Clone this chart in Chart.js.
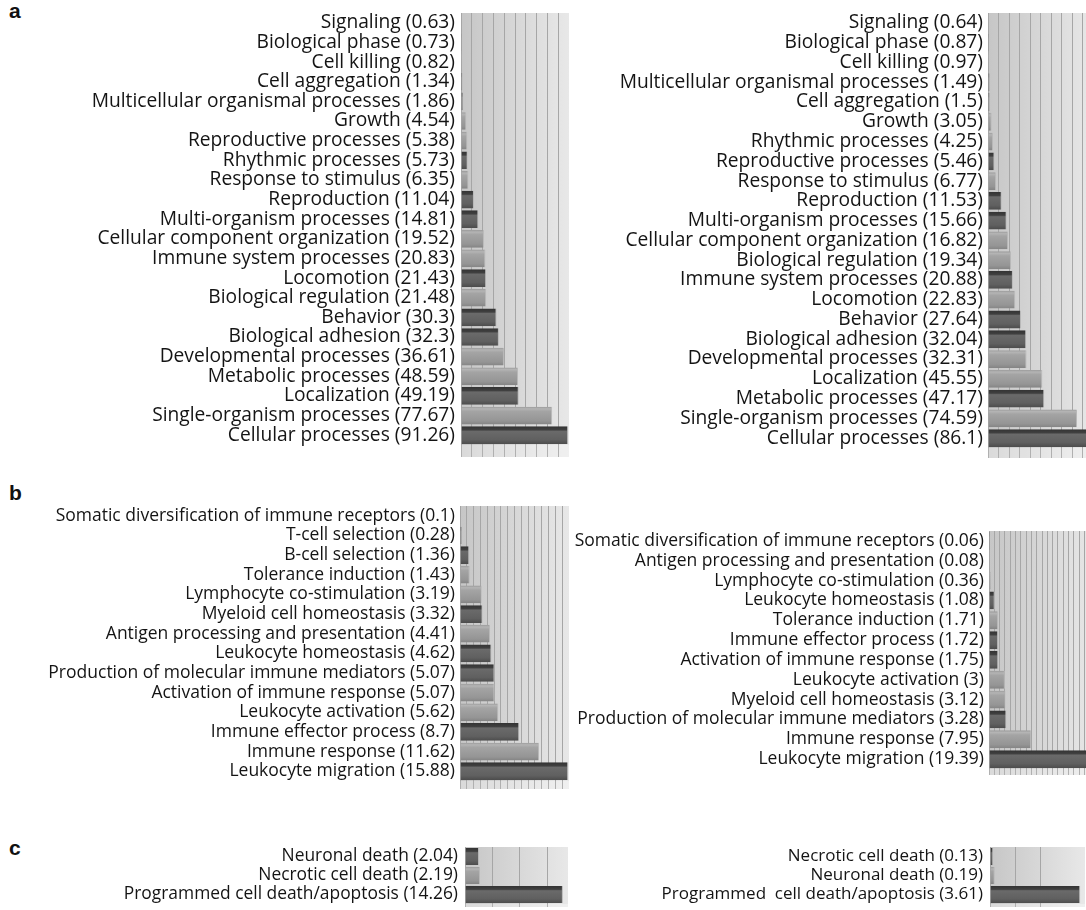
<!DOCTYPE html>
<html>
<head>
<meta charset="utf-8">
<script src="https://cdn.jsdelivr.net/npm/chart.js@4/dist/chart.umd.min.js"></script>
<style>
  body { margin: 0; width: 1086px; height: 910px; overflow: hidden; background: #fff; position: relative; }
  canvas { position: absolute; }
  .tag { position: absolute; font: bold 21px "Liberation Sans", Arial, sans-serif; color: #111; }
</style>
</head>
<body>
<div class="tag" style="left:9px;top:-1px">a</div>
<div class="tag" style="left:9px;top:481px">b</div>
<div class="tag" style="left:9px;top:836px">c</div>

<canvas id="aLeft"></canvas>
<canvas id="aRight"></canvas>
<canvas id="bLeft"></canvas>
<canvas id="bRight"></canvas>
<canvas id="cLeft"></canvas>
<canvas id="cRight"></canvas>

<script>
// a: GO biological process categories (percent of genes)
const aLeftNames = ['Signaling', 'Biological phase', 'Cell killing', 'Cell aggregation',
  'Multicellular organismal processes', 'Growth', 'Reproductive processes', 'Rhythmic processes',
  'Response to stimulus', 'Reproduction', 'Multi-organism processes', 'Cellular component organization',
  'Immune system processes', 'Locomotion', 'Biological regulation', 'Behavior', 'Biological adhesion',
  'Developmental processes', 'Metabolic processes', 'Localization', 'Single-organism processes',
  'Cellular processes'];
const aLeftValues = [0.63, 0.73, 0.82, 1.34, 1.86, 4.54, 5.38, 5.73, 6.35, 11.04, 14.81, 19.52,
  20.83, 21.43, 21.48, 30.3, 32.3, 36.61, 48.59, 49.19, 77.67, 91.26];

const aRightNames = ['Signaling', 'Biological phase', 'Cell killing', 'Multicellular organismal processes',
  'Cell aggregation', 'Growth', 'Rhythmic processes', 'Reproductive processes', 'Response to stimulus',
  'Reproduction', 'Multi-organism processes', 'Cellular component organization', 'Biological regulation',
  'Immune system processes', 'Locomotion', 'Behavior', 'Biological adhesion', 'Developmental processes',
  'Localization', 'Metabolic processes', 'Single-organism processes', 'Cellular processes'];
const aRightValues = [0.64, 0.87, 0.97, 1.49, 1.5, 3.05, 4.25, 5.46, 6.77, 11.53, 15.66, 16.82,
  19.34, 20.88, 22.83, 27.64, 32.04, 32.31, 45.55, 47.17, 74.59, 86.1];

// b: immune system process subcategories
const bLeftNames = ['Somatic diversification of immune receptors', 'T-cell selection', 'B-cell selection',
  'Tolerance induction', 'Lymphocyte co-stimulation', 'Myeloid cell homeostasis',
  'Antigen processing and presentation', 'Leukocyte homeostasis', 'Production of molecular immune mediators',
  'Activation of immune response', 'Leukocyte activation', 'Immune effector process', 'Immune response',
  'Leukocyte migration'];
const bLeftValues = [0.1, 0.28, 1.36, 1.43, 3.19, 3.32, 4.41, 4.62, 5.07, 5.07, 5.62, 8.7, 11.62, 15.88];

const bRightNames = ['Somatic diversification of immune receptors', 'Antigen processing and presentation',
  'Lymphocyte co-stimulation', 'Leukocyte homeostasis', 'Tolerance induction', 'Immune effector process',
  'Activation of immune response', 'Leukocyte activation', 'Myeloid cell homeostasis',
  'Production of molecular immune mediators', 'Immune response', 'Leukocyte migration'];
const bRightValues = [0.06, 0.08, 0.36, 1.08, 1.71, 1.72, 1.75, 3, 3.12, 3.28, 7.95, 19.39];

// c: cell death subcategories
const cLeftNames = ['Neuronal death', 'Necrotic cell death', 'Programmed cell death/apoptosis'];
const cLeftValues = [2.04, 2.19, 14.26];

const cRightNames = ['Necrotic cell death', 'Neuronal death', 'Programmed  cell death/apoptosis'];
const cRightValues = [0.13, 0.19, 3.61];

// bar shading, counted from the bottom bar upwards (D = dark, L = light)
const SHADES = 'DLDLLDDLDLLD';

const FONT = '"Open Sans", "Noto Sans", sans-serif';

function barFill(chart, index, count) {
  const pos = count - 1 - index;
  const dark = SHADES[pos % SHADES.length] === 'D';
  const flat = dark ? '#606060' : '#9c9c9c';
  const y = chart.scales.y;
  if (!y) return flat;
  const c = y.getPixelForValue(index);
  const band = Math.abs(y.getPixelForValue(1) - y.getPixelForValue(0));
  if (!isFinite(c) || !isFinite(band) || band === 0) return flat;
  const h = band * 0.9;
  const g = chart.ctx.createLinearGradient(0, c - h / 2, 0, c + h / 2);
  if (dark) {
    g.addColorStop(0, '#333333');
    g.addColorStop(0.2, '#404040');
    g.addColorStop(0.28, '#6a6a6a');
    g.addColorStop(0.75, '#606060');
    g.addColorStop(1, '#4c4c4c');
  } else {
    g.addColorStop(0, '#9a9a9a');
    g.addColorStop(0.12, '#b4b4b4');
    g.addColorStop(0.26, '#a4a4a4');
    g.addColorStop(0.8, '#959595');
    g.addColorStop(1, '#848484');
  }
  return g;
}

// grey back wall with a lighter right side, plus the floor strip
const wallPlugin = {
  id: 'wall',
  beforeDraw(chart, args, opts) {
    const { ctx, chartArea: a } = chart;
    if (!a) return;
    const g = ctx.createLinearGradient(a.left, 0, a.right, 0);
    g.addColorStop(0, '#c6c6c6');
    g.addColorStop(1, '#e8e8e8');
    ctx.save();
    ctx.fillStyle = g;
    ctx.fillRect(a.left, a.top - opts.lift, a.right - a.left, a.bottom - a.top + opts.lift + opts.floor);
    ctx.fillStyle = 'rgba(255,255,255,0.35)';
    ctx.fillRect(a.left, a.bottom, a.right - a.left, opts.floor);
    ctx.restore();
  }
};

function panel(id, names, values, box) {
  const el = document.getElementById(id);
  const width = box.labelWidth + box.plotWidth;
  const height = box.plotHeight + box.floor;
  el.width = width;
  el.height = height;
  el.style.left = (box.plotLeft - box.labelWidth) + 'px';
  el.style.top = box.plotTop + 'px';
  const labels = names.map((n, i) => `${n} (${values[i]})`);
  return new Chart(el, {
    type: 'bar',
    data: {
      labels: labels,
      datasets: [{
        data: values,
        backgroundColor: (ctx) => barFill(ctx.chart, ctx.dataIndex, values.length),
        borderColor: '#b8b8b8',
        borderWidth: { top: 0, left: 0, bottom: 0, right: 1 },
        borderSkipped: 'start',
        barPercentage: 0.9,
        categoryPercentage: 1
      }]
    },
    options: {
      indexAxis: 'y',
      responsive: false,
      animation: false,
      events: [],
      layout: { padding: 0 },
      plugins: {
        legend: { display: false },
        tooltip: { enabled: false },
        wall: { lift: box.lift, floor: box.floor }
      },
      scales: {
        x: {
          min: 0,
          max: box.max,
          ticks: { display: false, stepSize: box.step },
          grid: { color: '#a6a6a6', lineWidth: 1, drawTicks: true, tickLength: box.floor, tickColor: '#b0b0b0' },
          border: { display: false }
        },
        y: {
          ticks: { color: '#141414', padding: box.gap, autoSkip: false, font: { family: FONT, size: box.fontSize } },
          grid: { display: false, drawTicks: false },
          border: { display: false },
          afterFit(scale) {
            scale.width = box.labelWidth;
            scale.paddingTop = 0;
            scale.paddingBottom = 0;
          }
        }
      }
    },
    plugins: [wallPlugin]
  });
}

panel('aLeft', aLeftNames, aLeftValues,
  { plotLeft: 461, plotTop: 13, plotWidth: 108, plotHeight: 432, floor: 12, lift: 2, labelWidth: 455,
    max: 92, step: 9.2, fontSize: 19.2, gap: 6 });
panel('aRight', aRightNames, aRightValues,
  { plotLeft: 988, plotTop: 13, plotWidth: 105, plotHeight: 435, floor: 10, lift: 4, labelWidth: 430,
    max: 88, step: 8.8, fontSize: 19.2, gap: 5 });
panel('bLeft', bLeftNames, bLeftValues,
  { plotLeft: 460, plotTop: 506, plotWidth: 109, plotHeight: 275, floor: 8, lift: 0, labelWidth: 460,
    max: 16, step: 1, fontSize: 17.5, gap: 5 });
panel('bRight', bRightNames, bRightValues,
  { plotLeft: 989, plotTop: 531, plotWidth: 106, plotHeight: 238, floor: 6, lift: 4, labelWidth: 430,
    max: 20, step: 1, fontSize: 17.5, gap: 5 });
panel('cLeft', cLeftNames, cLeftValues,
  { plotLeft: 465, plotTop: 847, plotWidth: 103, plotHeight: 57, floor: 3, lift: 3, labelWidth: 400,
    max: 15, step: 4, fontSize: 17.4, gap: 7 });
panel('cRight', cRightNames, cRightValues,
  { plotLeft: 990, plotTop: 847, plotWidth: 95, plotHeight: 57, floor: 3, lift: 2, labelWidth: 400,
    max: 3.8, step: 1, fontSize: 17, gap: 7 });
</script>
</body>
</html>
